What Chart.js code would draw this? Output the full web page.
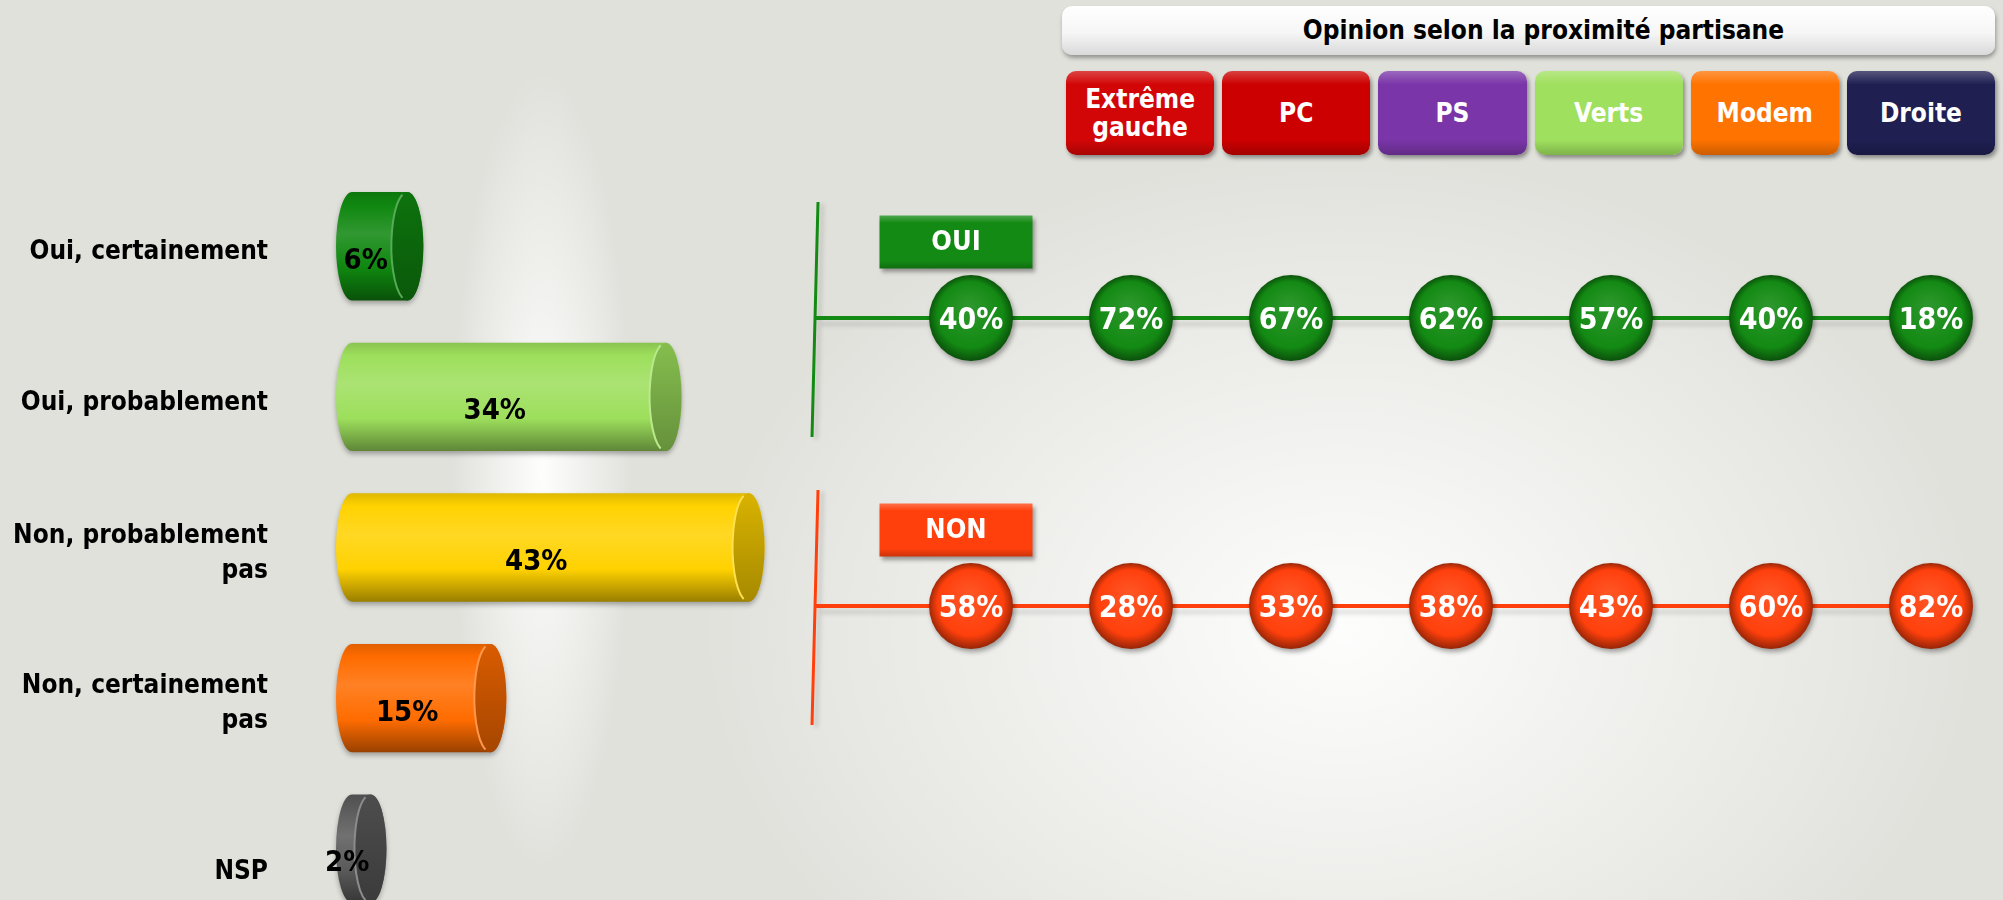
<!DOCTYPE html>
<html lang="fr">
<head>
<meta charset="UTF-8">
<title>Opinion selon la proximité partisane</title>
<script src="https://cdn.jsdelivr.net/npm/chart.js"></script>
<style>
  html, body { margin: 0; padding: 0; overflow: hidden; }
  body {
    width: 2003px;
    height: 900px;
    position: relative;
    font-family: 'DejaVu Sans Condensed', 'DejaVu Sans', sans-serif;
    background:
      radial-gradient(ellipse 640px 480px at 1340px 630px, rgba(255,255,255,0.95), rgba(255,255,255,0) 100%),
      radial-gradient(ellipse 90px 400px at 542px 470px, rgba(255,255,255,0.97), rgba(255,255,255,0) 100%),
      #e1e1dc;
  }
  #leftChart { position: absolute; left: 0; top: 0; }
  #rightChart { position: absolute; left: 780px; top: 0; }
  #header {
    position: absolute; left: 1062px; top: 6px; width: 933px; height: 49px;
    border-radius: 10px;
    background: linear-gradient(#ffffff, #f6f6f6 55%, #d9d9d9);
    box-shadow: 1px 3px 4px rgba(0,0,0,0.35);
    font-weight: bold; font-size: 26px; line-height: 49px;
    text-align: center; text-indent: 30px; color: #000;
  }
  #parties {
    position: absolute; left: 1066px; top: 71px; width: 929px; height: 84px;
    display: flex; gap: 8px;
  }
  .party {
    flex: 1;
    border-radius: 10px;
    color: #fff;
    font-weight: bold; font-size: 26px; line-height: 28px;
    display: flex; align-items: center; justify-content: center; text-align: center;
    box-shadow: 2px 3px 4px rgba(0,0,0,0.4);
  }
</style>
</head>
<body>

<div id="header">Opinion selon la proximité partisane</div>
<div id="parties"></div>
<canvas id="leftChart" width="790" height="960"></canvas>
<canvas id="rightChart" width="1223" height="900"></canvas>

<script>
// left part : answers
const answers = ['Oui, certainement', 'Oui, probablement', ['Non, probablement', 'pas'], ['Non, certainement', 'pas'], ['', 'NSP']];
const answerValues = [6, 34, 43, 15, 2];
const answerColors = ['#0f870f', '#9ddf5c', '#ffd200', '#ff6c00', '#5a5a5a'];

// right part : by party (first column = whole sample)
const columns = ['', 'Extrême gauche', 'PC', 'PS', 'Verts', 'Modem', 'Droite'];
const partyColors = ['#d20606', '#cc0000', '#7a36a8', '#9fe05e', '#ff7300', '#1f1f52'];
const rows = ['OUI', 'NON'];
const ouiValues = [40, 72, 67, 62, 57, 40, 18];
const nonValues = [58, 28, 33, 38, 43, 60, 82];
const rowColors = ['#138a13', '#ff400c'];

const FONT = "'DejaVu Sans Condensed', 'DejaVu Sans', sans-serif";

function shade(hex, amt) {
    const n = parseInt(hex.slice(1), 16);
    let r = (n >> 16) & 255, g = (n >> 8) & 255, b = n & 255;
    const t = amt < 0 ? 0 : 255, p = Math.abs(amt);
    r = Math.round(r + (t - r) * p);
    g = Math.round(g + (t - g) * p);
    b = Math.round(b + (t - b) * p);
    return `rgb(${r},${g},${b})`;
}

// party boxes
const partiesDiv = document.getElementById('parties');
columns.slice(1).forEach((name, i) => {
    const c = partyColors[i];
    const d = document.createElement('div');
    d.className = 'party';
    d.style.background = `linear-gradient(${shade(c, 0.25)} 0%, ${c} 16%, ${c} 82%, ${shade(c, -0.2)} 100%)`;
    d.textContent = name;
    partiesDiv.appendChild(d);
});

// cylinders for the bars
const cylinderPlugin = {
    id: 'cylinders',
    beforeDatasetDraw(chart) {
        const ctx = chart.ctx;
        const meta = chart.getDatasetMeta(0);
        const colors = chart.data.datasets[0].backgroundColor;
        meta.data.forEach((bar, i) => {
            const h = bar.height, cy = bar.y;
            const top = cy - h / 2, bottom = cy + h / 2;
            const left = bar.base, right = bar.x, rx = 16;
            const c = colors[i];

            const g = ctx.createLinearGradient(0, top, 0, bottom);
            g.addColorStop(0, shade(c, -0.12));
            g.addColorStop(0.12, c);
            g.addColorStop(0.38, shade(c, 0.14));
            g.addColorStop(0.7, c);
            g.addColorStop(1, shade(c, -0.4));

            ctx.save();
            ctx.shadowColor = 'rgba(0,0,0,0.3)';
            ctx.shadowBlur = 5;
            ctx.shadowOffsetY = 3;
            ctx.beginPath();
            ctx.ellipse(left, cy, rx, h / 2, 0, Math.PI / 2, Math.PI * 1.5);
            ctx.lineTo(right, top);
            ctx.ellipse(right, cy, rx, h / 2, 0, -Math.PI / 2, Math.PI / 2);
            ctx.closePath();
            ctx.fillStyle = g;
            ctx.fill();
            ctx.restore();

            const fg = ctx.createLinearGradient(0, top, 0, bottom);
            fg.addColorStop(0, shade(c, -0.15));
            fg.addColorStop(1, shade(c, -0.35));
            ctx.beginPath();
            ctx.ellipse(right, cy, rx, h / 2, 0, 0, Math.PI * 2);
            ctx.fillStyle = fg;
            ctx.fill();
            ctx.beginPath();
            ctx.ellipse(right, cy, rx, h / 2, 0, Math.PI * 0.6, Math.PI * 1.4);
            ctx.strokeStyle = shade(c, 0.3);
            ctx.lineWidth = 2;
            ctx.stroke();

            ctx.fillStyle = '#000';
            ctx.font = `bold 29px ${FONT}`;
            ctx.textAlign = 'center';
            ctx.textBaseline = 'middle';
            ctx.fillText(answerValues[i] + '%', (left + right) / 2 - 14, cy + 15);
        });
        return false;
    }
};

new Chart(document.getElementById('leftChart'), {
    type: 'bar',
    data: {
        labels: answers,
        datasets: [{
            data: answerValues,
            backgroundColor: answerColors,
            borderWidth: 0,
            barPercentage: 0.72,
            categoryPercentage: 1
        }]
    },
    options: {
        indexAxis: 'y',
        responsive: false,
        animation: false,
        layout: { padding: { top: 171, bottom: 36, right: 23 } },
        plugins: { legend: { display: false }, tooltip: { enabled: false } },
        scales: {
            x: { display: false, min: 0, max: 45 },
            y: {
                afterFit: s => {
                    s.width = 352;
                    s.paddingTop = 0;
                    s.paddingBottom = 0;
                },
                grid: { display: false, drawTicks: false },
                border: { display: false },
                ticks: {
                    color: '#000',
                    padding: 84,
                    labelOffset: 6,
                    font: { family: FONT, size: 26, weight: 'bold', lineHeight: 1.35 }
                }
            }
        }
    },
    plugins: [cylinderPlugin]
});

// glossy ball used as point style
function makeBubble(color) {
    const c = document.createElement('canvas');
    c.width = 100;
    c.height = 104;
    const g = c.getContext('2d');
    g.shadowColor = 'rgba(0,0,0,0.35)';
    g.shadowBlur = 5;
    g.shadowOffsetX = 2;
    g.shadowOffsetY = 3;
    const grad = g.createRadialGradient(48, 40, 4, 50, 52, 44);
    grad.addColorStop(0, shade(color, 0.1));
    grad.addColorStop(0.72, color);
    grad.addColorStop(1, shade(color, -0.45));
    g.fillStyle = grad;
    g.beginPath();
    g.ellipse(50, 52, 42, 43, 0, 0, Math.PI * 2);
    g.fill();
    return c;
}

const rowPlugin = {
    id: 'rowDecor',
    beforeDatasetsDraw(chart) {
        const { ctx, chartArea } = chart;
        chart.data.datasets.forEach((ds, k) => {
            const pts = chart.getDatasetMeta(k).data;
            const yp = pts[0].y;
            const last = pts[pts.length - 1].x;
            ctx.save();
            // soft shadow under the row lines
            ctx.strokeStyle = 'rgba(0,0,0,0.12)';
            ctx.lineWidth = 4;
            ctx.filter = 'blur(2px)';
            ctx.beginPath();
            ctx.moveTo(chartArea.left + 4, yp + 6);
            ctx.lineTo(last, yp + 6);
            ctx.moveTo(chartArea.left + 7, yp - 114);
            ctx.lineTo(chartArea.left + 1, yp + 121);
            ctx.stroke();
            ctx.filter = 'none';
            ctx.strokeStyle = rowColors[k];
            ctx.lineWidth = 3;
            ctx.beginPath();
            ctx.moveTo(chartArea.left + 3, yp - 116);
            ctx.lineTo(chartArea.left - 3, yp + 119);
            ctx.stroke();
            ctx.lineWidth = 4;
            ctx.beginPath();
            ctx.moveTo(chartArea.left, yp);
            ctx.lineTo(last, yp);
            ctx.stroke();
            ctx.restore();
        });
    },
    afterDatasetsDraw(chart) {
        const ctx = chart.ctx;
        chart.data.datasets.forEach((ds, k) => {
            const pts = chart.getDatasetMeta(k).data;
            const c = rowColors[k];
            // row title box
            const bw = 153, bh = 53;
            const bx = pts[0].x - 15 - bw / 2, by = pts[0].y - 76 - bh / 2;
            ctx.save();
            ctx.shadowColor = 'rgba(0,0,0,0.35)';
            ctx.shadowBlur = 4;
            ctx.shadowOffsetX = 2;
            ctx.shadowOffsetY = 3;
            const g = ctx.createLinearGradient(0, by, 0, by + bh);
            g.addColorStop(0, shade(c, 0.25));
            g.addColorStop(0.14, c);
            g.addColorStop(0.85, c);
            g.addColorStop(1, shade(c, -0.2));
            ctx.fillStyle = g;
            ctx.fillRect(bx, by, bw, bh);
            ctx.restore();
            ctx.fillStyle = '#fff';
            ctx.font = `bold 27px ${FONT}`;
            ctx.textAlign = 'center';
            ctx.textBaseline = 'middle';
            ctx.fillText(ds.label, bx + bw / 2, by + bh / 2 + 1);

            // values in the balls
            ctx.font = `bold 30px ${FONT}`;
            pts.forEach((p, i) => {
                ctx.fillText(ds.values[i] + '%', p.x, p.y + 3);
            });
        });
    }
};

const seriesValues = [ouiValues, nonValues];

new Chart(document.getElementById('rightChart'), {
    type: 'line',
    data: {
        datasets: rows.map((r, k) => ({
            label: r,
            values: seriesValues[k],
            data: seriesValues[k].map((v, i) => ({ x: i, y: r })),
            showLine: false,
            pointStyle: makeBubble(rowColors[k]),
            pointRadius: 43,
            clip: false
        }))
    },
    options: {
        responsive: false,
        animation: false,
        layout: { autoPadding: false, padding: { left: 35, right: 72, top: 174, bottom: 150 } },
        plugins: { legend: { display: false }, tooltip: { enabled: false } },
        scales: {
            x: { type: 'linear', display: false, min: -0.975, max: columns.length - 1 },
            y: { type: 'category', labels: rows, offset: true, display: false }
        }
    },
    plugins: [rowPlugin]
});
</script>

</body>
</html>
